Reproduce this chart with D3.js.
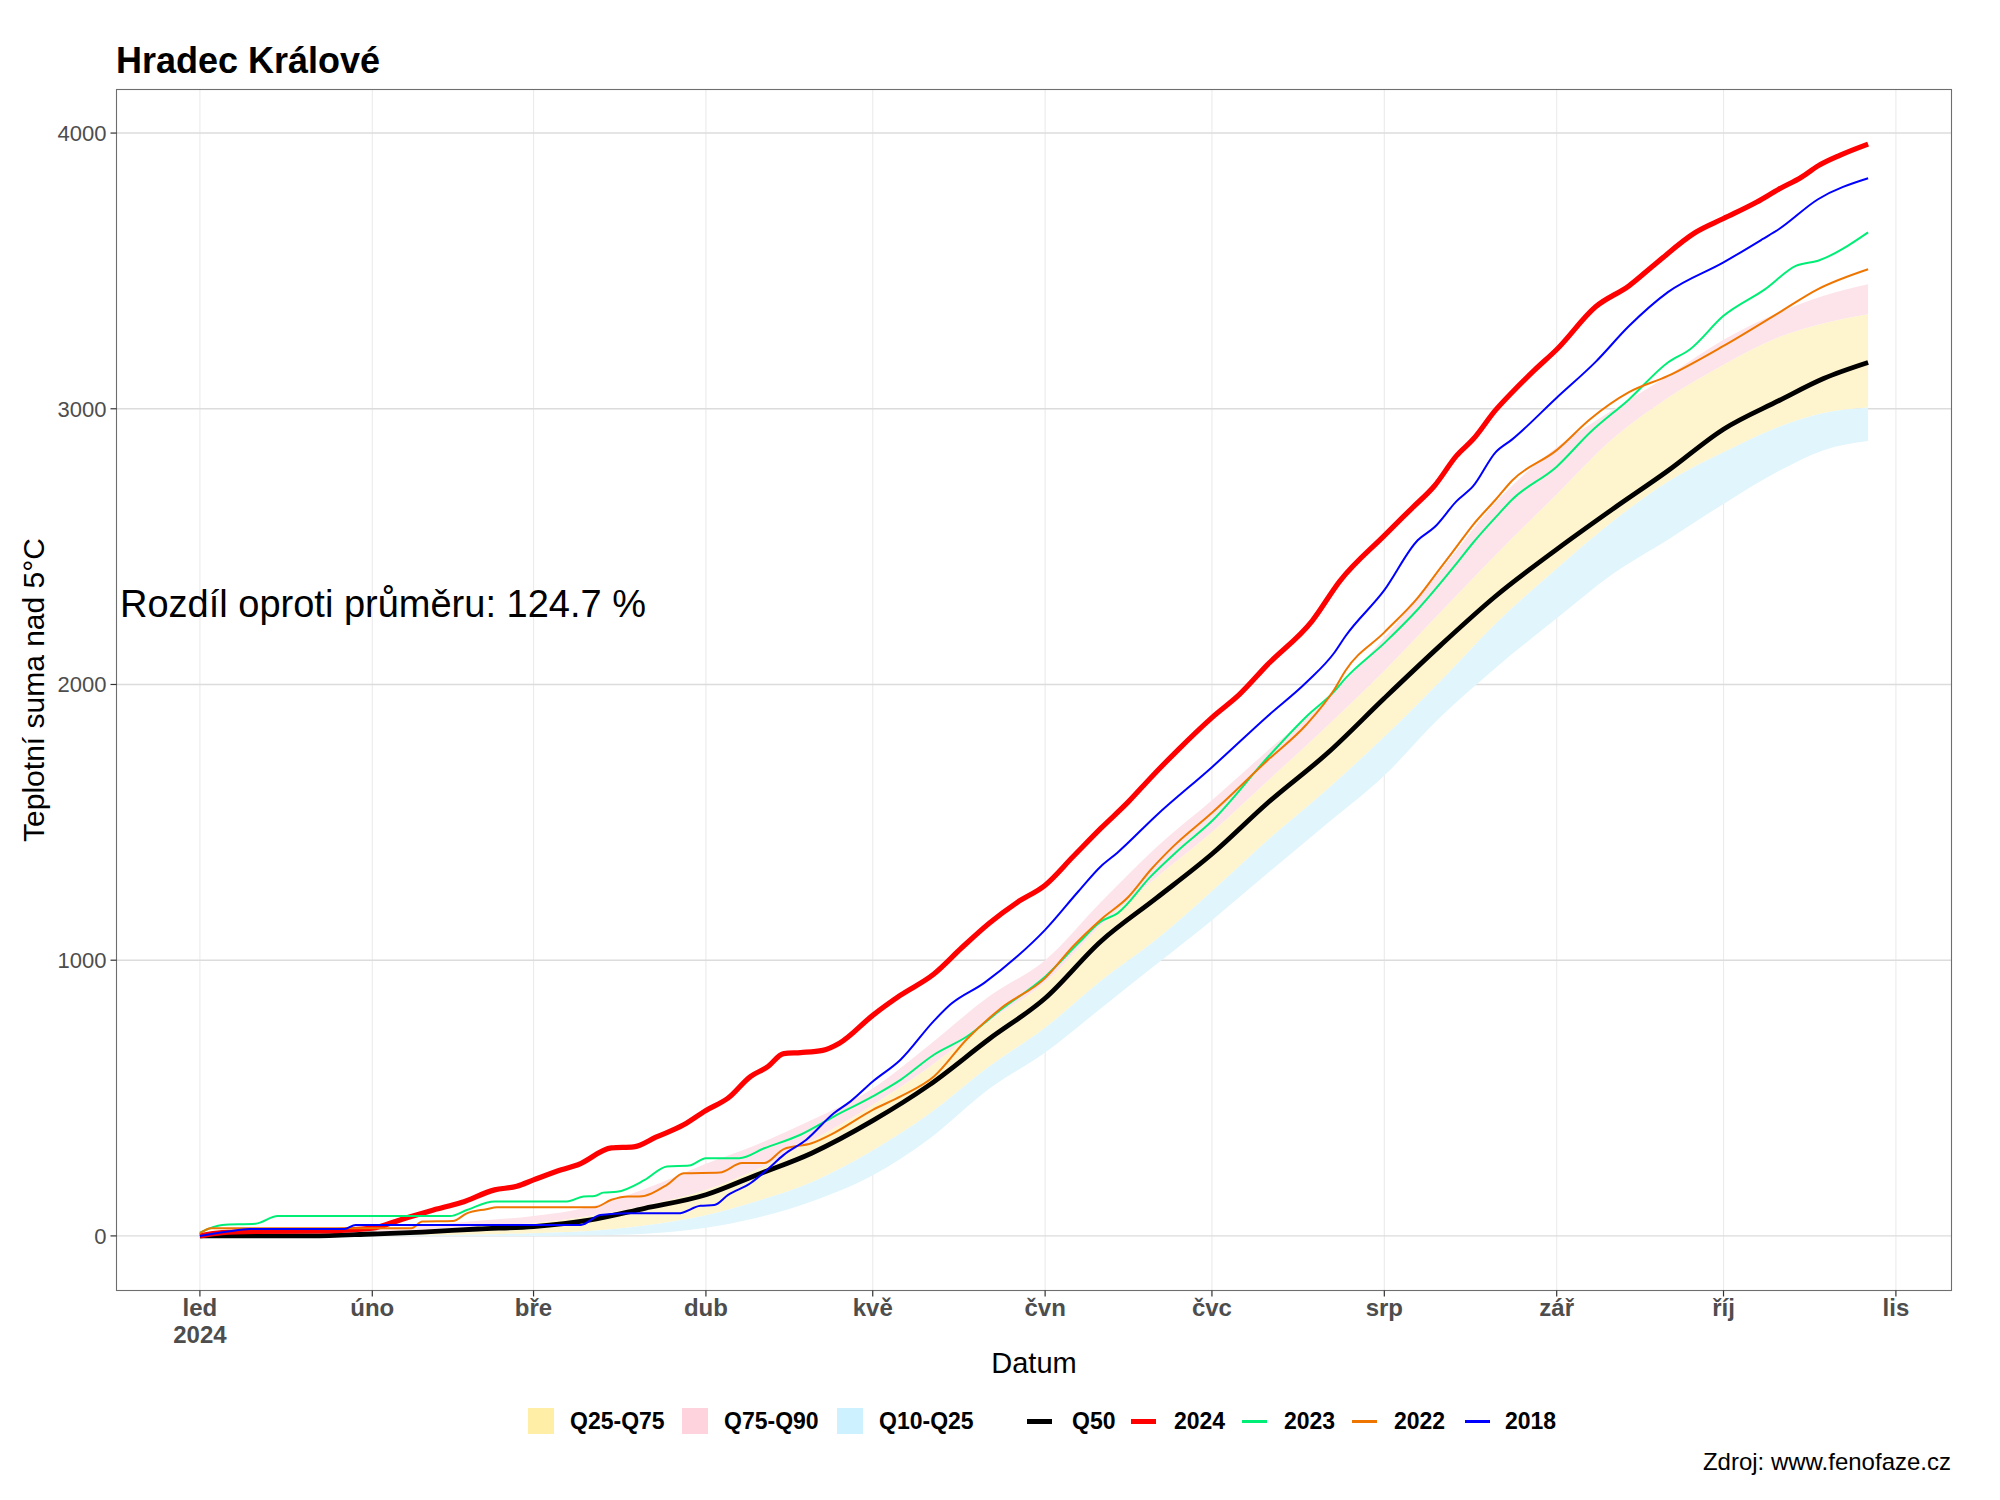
<!DOCTYPE html>
<html><head><meta charset="utf-8">
<script src="https://cdn.jsdelivr.net/npm/d3@7"></script>
<style>body{margin:0;background:#fff} svg{display:block;font-family:"Liberation Sans",Arial,sans-serif}</style>
</head><body>
<svg id="chart" width="2000" height="1500"></svg>
<script>
// ---------------- DATA ----------------
// day offsets from 1 Jan 2024
const bandDays = [0,10,20,31,40,50,60,70,80,91,100,110,121,131,142,152,162,172,182,192,203,213,223,233,244,254,264,274,284,292,300];
const q10 = [0,0,0,0,0,0,0,2,8,30,65,125,220,350,535,665,825,985,1145,1315,1500,1670,1880,2060,2240,2400,2525,2655,2775,2850,2883];
const q25 = [0,0,0,0,2,5,10,18,38,75,125,195,310,440,615,755,925,1075,1250,1435,1625,1810,2010,2220,2420,2590,2735,2842,2935,2985,3005];
const q50 = [0,0,0,7,14,25,34,57,100,149,220,300,418,545,715,862,1068,1225,1385,1570,1755,1950,2140,2320,2490,2635,2775,2926,3030,3110,3168];
const q75 = [0,2,5,10,20,35,47,72,110,167,240,345,475,610,780,920,1125,1300,1465,1650,1855,2050,2260,2470,2690,2890,3040,3160,3260,3310,3343];
const q90 = [0,5,12,25,38,55,72,105,170,262,330,420,535,690,870,1000,1210,1410,1580,1760,1950,2170,2410,2660,2860,2995,3120,3250,3350,3410,3452];

const y2024 = [[0,0],[4,12],[10,16],[22,18],[31,28],[36,58],[42,94],[47,121],[53,167],[57,180],[60,203],[65,240],[68,258],[74,319],[78,323],[82,358],[87,403],[91,455],[95,500],[99,578],[102,612],[105,661],[108,665],[112,673],[115,699],[121,800],[126,873],[132,950],[137,1045],[142,1135],[147,1210],[152,1272],[157,1375],[162,1478],[167,1575],[171,1662],[176,1765],[182,1880],[187,1965],[192,2072],[200,2230],[205,2375],[213,2540],[218,2640],[222,2720],[226,2830],[229,2890],[233,2995],[236,3060],[240,3140],[244,3215],[251,3370],[257,3446],[262,3530],[269,3640],[274,3690],[280,3750],[284,3797],[288,3840],[291,3881],[295,3920],[300,3960]];
const y2023 = [[0,12],[4,40],[10,44],[14,72],[45,72],[48,94],[53,125],[66,125],[69,143],[71,145],[72.5,157],[75,160],[80,203],[84,252],[88,255],[91,282],[97,282],[101.5,318],[108,367],[114,433],[121,506],[126,566],[132,657],[138,724],[144,820],[152,940],[158,1062],[162,1140],[165,1170],[171,1304],[176,1400],[182,1505],[192,1735],[199,1884],[204,1975],[206,2022],[213,2150],[219,2272],[226,2439],[229,2515],[233,2606],[236,2671],[244,2790],[250,2914],[257,3034],[264,3168],[268,3216],[274,3337],[281.5,3434],[287,3518],[291,3537],[300,3640]];
const y2022 = [[0,10],[2,28],[38,28],[40,52],[45.5,54],[48,82],[51.5,97],[53.5,104],[71,104],[74,131],[77,143],[79,143],[84,185],[87,227],[93.5,230],[97.5,264],[101.5,264],[105,315],[110,336],[114,373],[121,457],[126,506],[132,578],[138,715],[144,825],[152,935],[157,1050],[162,1147],[167,1230],[171,1328],[175,1412],[182,1535],[192,1725],[199,1855],[204,1982],[206,2050],[213,2189],[219,2314],[223,2420],[226,2500],[229,2580],[233,2670],[236,2740],[244,2850],[250,2962],[257,3060],[264,3119],[274,3228],[284,3349],[291,3434],[300,3506]];
const y2018 = [[0,0],[5,16],[9,25],[26,25],[28,40],[68.5,40],[72,76],[77,82],[86,82],[90,109],[92.5,112],[95,149],[99,191],[102,240],[105,294],[109,348],[114,445],[117,488],[121,560],[126,639],[132,780],[135,840],[141,917],[147,1014],[152,1110],[158,1250],[162,1340],[165,1390],[172,1525],[182,1700],[192,1885],[199,2008],[204,2115],[206,2175],[213,2342],[219,2523],[222,2570],[226,2665],[229,2720],[233,2842],[236,2889],[244,3040],[251,3170],[257,3300],[264,3423],[274,3531],[281,3615],[284,3652],[291,3760],[300,3836]];

const monthLabels = ["led","úno","bře","dub","kvě","čvn","čvc","srp","zář","říj","lis"];
const yTicks = [0,1000,2000,3000,4000];
const bandLegend = ["Q25-Q75","Q75-Q90","Q10-Q25"];
const lineLegend = ["Q50","2024","2023","2022","2018"];

// ---------------- LAYOUT ----------------
const svg = d3.select("#chart");
const P = {left:116.5, right:1951.5, top:89.5, bottom:1290.5};
const start = new Date(2024,0,1);
const dayDate = d => new Date(start.getTime() + d*86400000);

const xExt = [0, d3.max(bandDays)];
const xPad = (xExt[1]-xExt[0])*0.05;
const x = d3.scaleTime().domain([dayDate(xExt[0]-xPad), dayDate(xExt[1]+xPad)]).range([P.left, P.right]);
const allVals = [].concat(q10,q90,y2024.map(d=>d[1]),y2023.map(d=>d[1]),y2022.map(d=>d[1]),y2018.map(d=>d[1]));
const yMin = d3.min(allVals), yMax = d3.max(allVals);
const yPad = (yMax-yMin)*0.05;
const y = d3.scaleLinear().domain([yMin-yPad, yMax+yPad]).range([P.bottom, P.top]);

const monthTicks = d3.range(0,11).map(m => new Date(2024,m,1));

// gridlines
const g = svg.append("g");
g.selectAll(".vg").data(monthTicks).join("line")
  .attr("x1",d=>x(d)).attr("x2",d=>x(d)).attr("y1",P.top).attr("y2",P.bottom)
  .attr("stroke","#EBEBEB").attr("stroke-width",1.1);
g.selectAll(".hg").data(yTicks).join("line")
  .attr("x1",P.left).attr("x2",P.right).attr("y1",d=>y(d)).attr("y2",d=>y(d))
  .attr("stroke","#DCDCDC").attr("stroke-width",1.4);

// bands
const band = (lo, hi) => d3.area().curve(d3.curveMonotoneX)
  .x((d,i)=>x(dayDate(bandDays[i]))).y0((d,i)=>y(lo[i])).y1((d,i)=>y(hi[i]))(bandDays);
svg.append("path").attr("d", band(q25,q75)).attr("fill","#FEF5CF");
svg.append("path").attr("d", band(q75,q90)).attr("fill","#FDE4EA");
svg.append("path").attr("d", band(q10,q25)).attr("fill","#E1F5FC");

// lines
const lineGen = d3.line().curve(d3.curveMonotoneX).x(d=>x(dayDate(d[0]))).y(d=>y(d[1]));
const series = [
  {pts: bandDays.map((d,i)=>[d,q50[i]]), color:"#000000", w:4.8},
  {pts: y2024, color:"#FF0000", w:5.2},
  {pts: y2023, color:"#00EE76", w:2},
  {pts: y2022, color:"#EE7600", w:2},
  {pts: y2018, color:"#0000FF", w:2}
];
series.forEach(s => svg.append("path").attr("d", lineGen(s.pts)).attr("fill","none")
  .attr("stroke", s.color).attr("stroke-width", s.w).attr("stroke-linejoin","round").attr("stroke-linecap","butt"));

// panel border
svg.append("rect").attr("x",P.left).attr("y",P.top).attr("width",P.right-P.left).attr("height",P.bottom-P.top)
  .attr("fill","none").attr("stroke","#6E6E6E").attr("stroke-width",1.1);

// axes ticks
const yAxis = svg.append("g");
yTicks.forEach(t => {
  yAxis.append("line").attr("x1",P.left-6).attr("x2",P.left).attr("y1",y(t)).attr("y2",y(t)).attr("stroke","#333").attr("stroke-width",1.2);
  yAxis.append("text").attr("x",P.left-10).attr("y",y(t)).attr("dy","0.36em").attr("text-anchor","end")
    .attr("font-size",22).attr("fill","#4D4D4D").text(t);
});
const xAxis = svg.append("g");
monthTicks.forEach((t,i) => {
  xAxis.append("line").attr("x1",x(t)).attr("x2",x(t)).attr("y1",P.bottom).attr("y2",P.bottom+6).attr("stroke","#333").attr("stroke-width",1.2);
  xAxis.append("text").attr("x",x(t)).attr("y",1316).attr("text-anchor","middle")
    .attr("font-size",24).attr("font-weight","bold").attr("fill","#4D4D4D").text(monthLabels[i]);
  if (i===0) xAxis.append("text").attr("x",x(t)).attr("y",1343).attr("text-anchor","middle")
    .attr("font-size",24).attr("font-weight","bold").attr("fill","#4D4D4D").text("2024");
});

// titles
svg.append("text").attr("x",116).attr("y",73).attr("font-size",36).attr("font-weight","bold").attr("fill","#000").text("Hradec Králové");
svg.append("text").attr("x",(P.left+P.right)/2).attr("y",1373).attr("text-anchor","middle").attr("font-size",29).attr("fill","#000").text("Datum");
svg.append("text").attr("transform",`translate(44,${(P.top+P.bottom)/2}) rotate(-90)`).attr("text-anchor","middle")
  .attr("font-size",30).attr("fill","#000").text("Teplotní suma nad 5°C");
svg.append("text").attr("x",120).attr("y",617).attr("font-size",38).attr("fill","#000").text("Rozdíl oproti průměru: 124.7 %");
svg.append("text").attr("x",1951).attr("y",1470).attr("text-anchor","end").attr("font-size",24).attr("fill","#000").text("Zdroj: www.fenofaze.cz");

// legend
const lg = svg.append("g").attr("font-size",23).attr("font-weight","bold");
const bandKeys = [{x:528,c:"#FFEFA6",tx:570},{x:682,c:"#FFD3DD",tx:724},{x:837,c:"#CDF1FF",tx:879}];
bandKeys.forEach((k,i)=>{
  lg.append("rect").attr("x",k.x).attr("y",1408).attr("width",26).attr("height",26).attr("fill",k.c);
  lg.append("text").attr("x",k.tx).attr("y",1429).text(bandLegend[i]);
});
const lineKeys = [{x:1027,tx:1072},{x:1131,tx:1174},{x:1242,tx:1284},{x:1352,tx:1394},{x:1465,tx:1505}];
lineKeys.forEach((k,i)=>{
  lg.append("line").attr("x1",k.x).attr("x2",k.x+25).attr("y1",1421.5).attr("y2",1421.5)
    .attr("stroke",series[i].color).attr("stroke-width", i<2?5:3);
  lg.append("text").attr("x",k.tx).attr("y",1429).text(lineLegend[i]);
});
</script>
</body></html>
